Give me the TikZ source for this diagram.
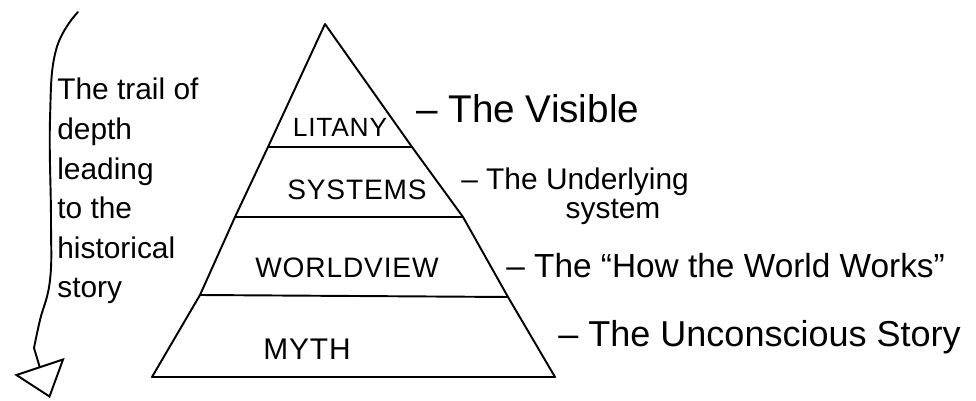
\documentclass[tikz,border=0pt]{standalone}
\usepackage{fontspec}
\setmainfont{Liberation Sans}
\newfontfamily\layerfont[LetterSpace=3]{Liberation Sans}
\usetikzlibrary{arrows.meta}
\tikzstyle{edge} = [line width=1.1pt,line cap=round,line join=round]
\tikzstyle{layer} = [inner sep=0pt,font=\layerfont\fontsize{16}{18}\selectfont]
\tikzstyle{level} = [anchor=base west,inner sep=0pt,font=\fontsize{19}{22}\selectfont]
\tikzstyle{trail} = [line width=1.1pt,line cap=round,-{Triangle[open,length=19pt,width=30pt,line width=1.1pt]}]

\begin{document}
\begin{tikzpicture}[x=0.02cm,y=-0.02cm]
\useasboundingbox (0,0) rectangle (976,401);

\coordinate (apex) at (325,24);
\coordinate (base left) at (152,377);
\coordinate (base right) at (555,377);
\coordinate (l1) at (268,147);
\coordinate (r1) at (412,147);
\coordinate (l2) at (235,217);
\coordinate (r2) at (463,217);
\coordinate (l3) at (200,295);
\coordinate (r3) at (508,297);

\draw[edge] (base left) -- (l3) -- (l2) -- (l1) -- (apex) -- (r1) -- (r2) -- (r3) -- (base right) -- cycle;
\foreach \i in {1,2,3}
{
 \draw[edge] (l\i) -- (r\i);
}

\foreach \name/\x/\y in {SYSTEMS/357/190,WORLDVIEW/347/268}
{
 \node[layer] (\name) at (\x,\y) {\name};
}
\node[layer,font=\layerfont\fontsize{15}{18}\selectfont] (LITANY) at (340,127) {LITANY};
\node[layer,font=\layerfont\fontsize{17}{18}\selectfont] (MYTH) at (307,349) {MYTH};

\node[level,font=\fontsize{22}{24}\selectfont] (visible) at (416,123) {– The Visible};
\node[level,font=\fontsize{17}{20}\selectfont] (underlying) at (461,190) {– The Underlying};
\node[level,anchor=base,font=\fontsize{17}{20}\selectfont] (system) at (613,219) {system};
\node[level] (works) at (506,278) {– The “How the World Works”};
\node[level,font=\fontsize{20.5}{24}\selectfont] (story) at (558,347) {– The Unconscious Story};

\node[anchor=north west,align=left,inner sep=0pt,font=\fontsize{17}{22.5}\selectfont] (trail text) at (57,78) {The trail of\\depth\\leading\\to the\\historical\\story};

\coordinate (trail top) at (78,12);
\coordinate (trail end) at (50,398);
\draw[trail] plot[smooth,tension=0.7] coordinates {(trail top) (56,50) (50,120) (51,220) (50,280) (40,320) (34,348)} .. controls (40,368) .. (trail end);

\end{tikzpicture}
\end{document}
